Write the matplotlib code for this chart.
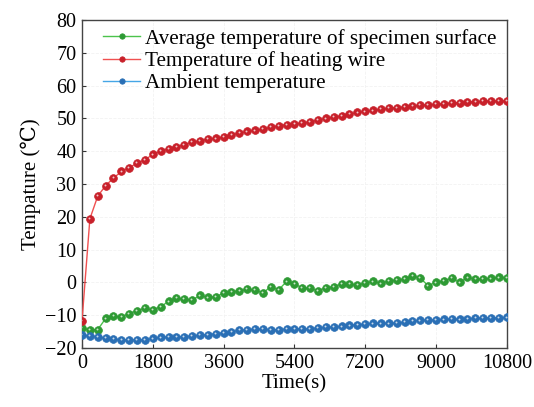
import matplotlib.pyplot as plt
import matplotlib.transforms as mtransforms
import numpy as np

plt.rcParams['font.family'] = ['Liberation Serif', 'DejaVu Serif']

# sampling times (s), one reading every 200 s
time_s = np.arange(0, 10801, 200)

# --- readings (deg C) ---
wire = [-11.7, 19.4, 26.3, 29.5, 31.8, 33.8, 35.0, 36.3, 37.4, 39.0,
        40.0, 40.8, 41.3, 42.0, 42.7, 43.2, 43.7, 43.9, 44.3, 45.0,
        45.5, 46.0, 46.3, 46.7, 47.3, 47.8, 48.1, 48.3, 48.6, 49.0,
        49.5, 50.0, 50.4, 50.8, 51.3, 51.8, 52.1, 52.4, 52.8, 53.1,
        53.3, 53.5, 53.8, 54.0, 54.1, 54.3, 54.5, 54.7, 54.8, 55.0,
        55.1, 55.2, 55.3, 55.3, 55.3]

surface = [-14.0, -14.4, -14.4, -11.0, -10.3, -10.5, -9.5, -8.6, -7.9, -8.4,
           -7.4, -5.8, -4.8, -5.1, -5.4, -4.0, -4.6, -4.4, -3.3, -2.8,
           -2.6, -2.1, -2.4, -3.2, -1.3, -2.3, 0.3, -0.5, -1.7, -1.8,
           -2.6, -1.6, -1.3, -0.5, -0.5, -0.8, -0.2, 0.3, -0.3, 0.5,
           0.7, 1.0, 2.0, 1.3, -1.0, 0.0, 0.5, 1.3, 0.0, 1.5,
           1.0, 1.0, 1.2, 1.5, 1.4]

ambient = [-16.1, -16.3, -16.6, -17.0, -17.3, -17.5, -17.5, -17.5, -17.5, -17.1,
           -16.8, -16.6, -16.5, -16.5, -16.3, -16.1, -15.9, -15.6, -15.3, -15.0,
           -14.6, -14.4, -14.2, -14.3, -14.4, -14.4, -14.2, -14.1, -14.2, -14.1,
           -13.8, -13.7, -13.6, -13.4, -13.1, -12.9, -12.7, -12.5, -12.5, -12.5,
           -12.4, -12.1, -11.7, -11.6, -11.5, -11.4, -11.3, -11.2, -11.3, -11.1,
           -10.9, -10.9, -10.8, -10.8, -10.7]

xticks = [0, 1800, 3600, 5400, 7200, 9000, 10800]
yticks = np.arange(-20, 81, 10)

series = [
    (surface, 'Average temperature of specimen surface', '#4cc34c', '#2e9a34'),
    (wire, 'Temperature of heating wire', '#f05050', '#c8202a'),
    (ambient, 'Ambient temperature', '#45a6e6', '#2a6fb5'),
]

fig = plt.figure(figsize=(5.34, 4.07), dpi=100)
ax = fig.add_axes([0.1536, 0.145, 0.7955, 0.806])

# small shift so the shine sits up-left on each bead
shine = ax.transData + mtransforms.ScaledTranslation(-0.6 / 72, 0.6 / 72, fig.dpi_scale_trans)

for vals, name, lc, mc in series:
    ax.plot(time_s, vals, color=lc, lw=1.0, marker='o', ms=5.6,
            mfc=mc, mec=mc, mew=0.5, label=name, zorder=3)
    ax.plot(time_s, vals, ls='none', marker='o', ms=1.4, mfc='white',
            mec='none', alpha=0.75, zorder=4, transform=shine)

ax.set_xlim(0, 10800)
ax.set_ylim(-20, 80)
ax.set_xticks(xticks)
ax.set_yticks(yticks)
ax.tick_params(direction='in', length=3, labelsize=14.5, colors='#333333',
               labelcolor='black', pad=4)
ax.grid(True, color='#f2f2f2', ls='--', lw=0.6)
ax.set_axisbelow(True)
for sp in ax.spines.values():
    sp.set_color('#444444')
    sp.set_linewidth(1.0)

ax.set_xlabel('Time(s)', fontsize=15, labelpad=1)
ax.set_ylabel('Tempature (\u2103)', fontsize=15, labelpad=3)

leg = ax.legend(loc='upper left', frameon=False, fontsize=15.2, handlelength=1.75,
                handletextpad=0.25, labelspacing=0.12, borderaxespad=0.0,
                bbox_to_anchor=(0.030, 0.999), markerscale=0.7)

fig.savefig('out.png', dpi=100)
